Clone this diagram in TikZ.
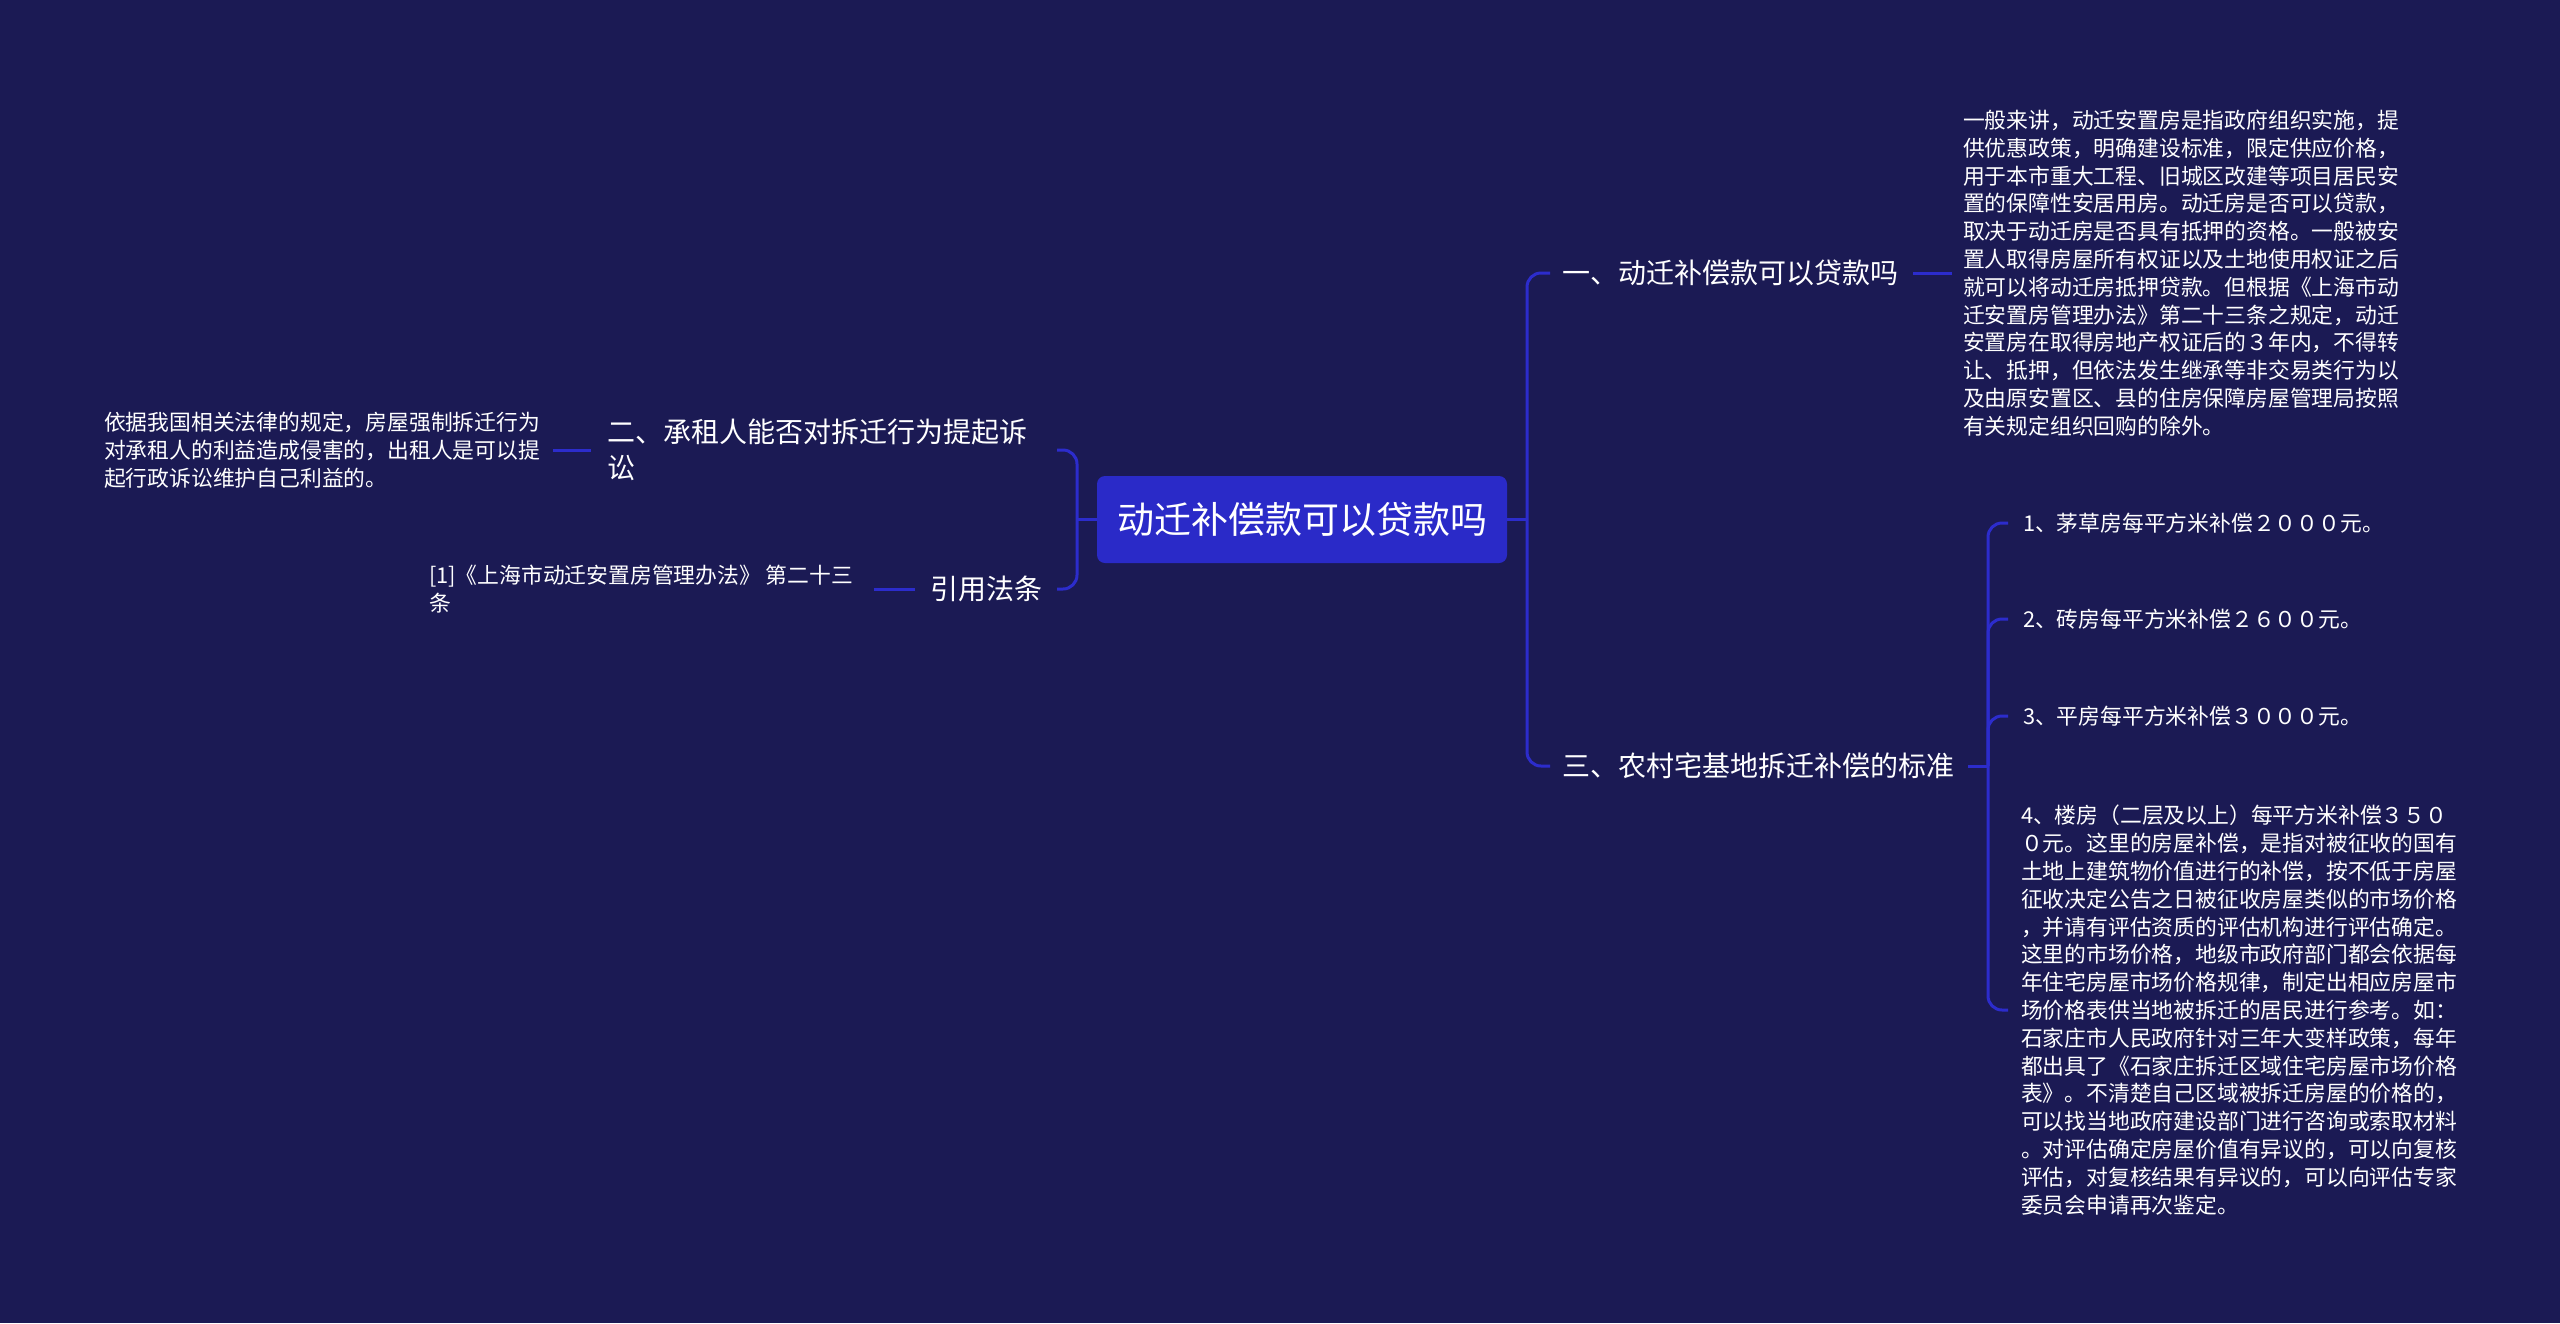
\documentclass[tikz,border=0pt]{standalone}
\usepackage{fontspec}
\setmainfont{Noto Sans CJK SC}
\definecolor{bgcol}{RGB}{27,26,84}
\definecolor{linecol}{RGB}{44,44,204}
\definecolor{rootfill}{RGB}{42,42,200}
\begin{document}
\begin{tikzpicture}[x=1pt,y=-1pt,
  conn/.style={draw=linecol, line width=3pt, rounded corners=14pt},
  txt/.style={inner sep=0pt, outer sep=0pt, text=white, align=left, font=\fontsize{28}{36}\selectfont},
  small/.style={inner sep=0pt, outer sep=0pt, text=white, align=left, font=\fontsize{21.8}{27.8}\selectfont},
  rootbox/.style={fill=rootfill, rounded corners=8pt, minimum width=410pt, minimum height=87pt, text=white, font=\fontsize{37}{44}\selectfont, inner sep=0pt, outer sep=0pt}]
\fill[bgcol] (0,0) rectangle (2560,1323);
\useasboundingbox (0,0) rectangle (2560,1323);

% nodes
\node[rootbox] (root) at (1302,519.5) {动迁补偿款可以贷款吗};

\node[txt, anchor=west] (n1) at (1562,273) {一、动迁补偿款可以贷款吗};
\node[small, anchor=west] (n1d) at (1963,273) {一般来讲，动迁安置房是指政府组织实施，提\\
供优惠政策，明确建设标准，限定供应价格，\\
用于本市重大工程、旧城区改建等项目居民安\\
置的保障性安居用房。动迁房是否可以贷款，\\
取决于动迁房是否具有抵押的资格。一般被安\\
置人取得房屋所有权证以及土地使用权证之后\\
就可以将动迁房抵押贷款。但根据《上海市动\\
迁安置房管理办法》第二十三条之规定，动迁\\
安置房在取得房地产权证后的３年内，不得转\\
让、抵押，但依法发生继承等非交易类行为以\\
及由原安置区、县的住房保障房屋管理局按照\\
有关规定组织回购的除外。};

\node[txt, anchor=west] (n3) at (1562,766) {三、农村宅基地拆迁补偿的标准};
\node[small, anchor=west] (i1) at (2023,523) {1、茅草房每平方米补偿２０００元。};
\node[small, anchor=west] (i2) at (2023,619) {2、砖房每平方米补偿２６００元。};
\node[small, anchor=west] (i3) at (2023,716) {3、平房每平方米补偿３０００元。};
\node[small, anchor=west] (i4) at (2021,1010) {4、楼房（二层及以上）每平方米补偿３５０\\
０元。这里的房屋补偿，是指对被征收的国有\\
土地上建筑物价值进行的补偿，按不低于房屋\\
征收决定公告之日被征收房屋类似的市场价格\\
，并请有评估资质的评估机构进行评估确定。\\
这里的市场价格，地级市政府部门都会依据每\\
年住宅房屋市场价格规律，制定出相应房屋市\\
场价格表供当地被拆迁的居民进行参考。如：\\
石家庄市人民政府针对三年大变样政策，每年\\
都出具了《石家庄拆迁区域住宅房屋市场价格\\
表》。不清楚自己区域被拆迁房屋的价格的，\\
可以找当地政府建设部门进行咨询或索取材料\\
。对评估确定房屋价值有异议的，可以向复核\\
评估，对复核结果有异议的，可以向评估专家\\
委员会申请再次鉴定。};

\node[txt, anchor=west] (n2) at (607,450) {二、承租人能否对拆迁行为提起诉\\讼};
\node[small, anchor=west] (n2d) at (104,450) {依据我国相关法律的规定，房屋强制拆迁行为\\
对承租人的利益造成侵害的，出租人是可以提\\
起行政诉讼维护自己利益的。};
\node[txt, anchor=west] (cite) at (930,589) {引用法条};
\node[small, anchor=west] (cited) at (429,589) {[1]《上海市动迁安置房管理办法》 第二十三\\条};

% connectors right
\coordinate (rt) at (1527,519.5);
\draw[conn] (root.east) -- (rt);
\draw[conn] ([xshift=-12pt]n1.west) -| (rt) |- ([xshift=-12pt]n3.west);
\draw[conn] ([xshift=15pt]n1.east) -- ([xshift=-11pt]n1d.west);
\coordinate (st) at (1988,766);
\draw[conn] ([xshift=14pt]n3.east) -- (st);
\draw[conn] ([xshift=-15pt]i1.west) -| (st) |- ([xshift=-13pt]i4.west);
\draw[conn] ([xshift=-15pt]i2.west) -| (st);
\draw[conn] ([xshift=-15pt]i3.west) -| (st);

% connectors left
\coordinate (lt) at (1077,519.5);
\coordinate (e2) at (1057,450);
\coordinate (ec) at (1057,589);
\draw[conn] (root.west) -- (lt);
\draw[conn] (e2) -| (lt) |- (ec);
\draw[conn] ([xshift=-16pt]n2.west) -- ([xshift=13pt]n2d.east);
\draw[conn] ([xshift=-15pt]cite.west) -- ([xshift=21pt]cited.east);
\end{tikzpicture}
\end{document}
